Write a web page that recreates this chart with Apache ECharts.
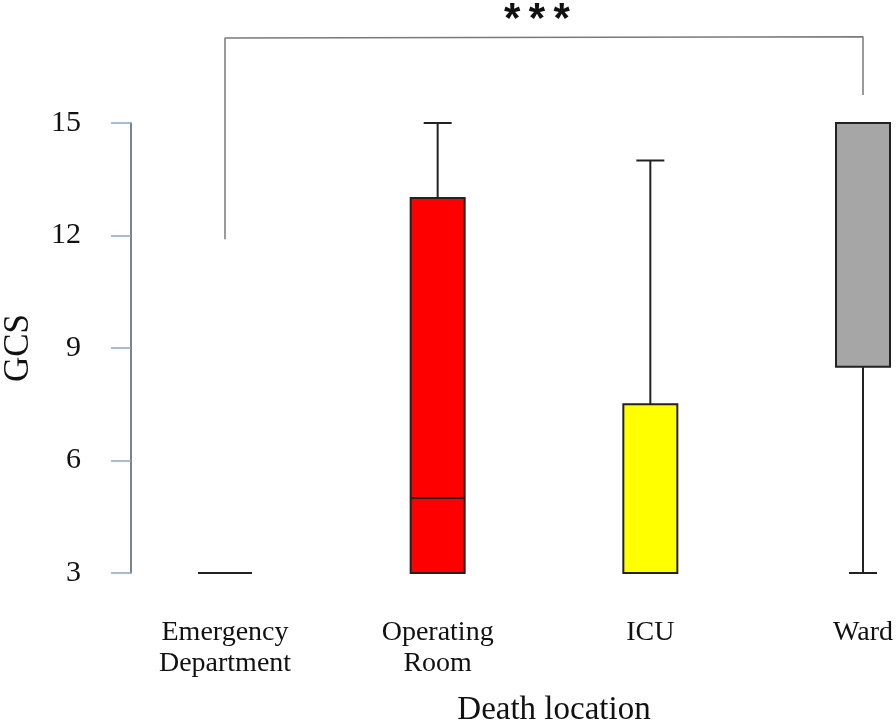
<!DOCTYPE html>
<html>
<head>
<meta charset="utf-8">
<script src="https://cdn.jsdelivr.net/npm/echarts@6/dist/echarts.min.js"></script>
</head>
<body style="margin:0;background:#fff;">
<div id="chart" style="width:896px;height:724px;"></div>
<script>
// categories and box stats
const locations = ['Emergency\nDepartment', 'Operating\nRoom', 'ICU', 'Ward'];
const gcsMin = [3, 3, 3, 3];
const gcsQ1 = [3, 3, 3, 8.5];
const gcsMedian = [3, 5, 3, 15];
const gcsQ3 = [3, 13, 7.5, 15];
const gcsMax = [3, 15, 14, 15];
const boxColors = ['#ffffff', '#ff0000', '#ffff00', '#a6a6a6'];
const yTicks = [3, 6, 9, 12, 15];
// significance bracket: ED vs Ward
const bracket = [[0, 11.9], [0, 17.27], [3, 17.3], [3, 15.75]];

const boxData = locations.map((c, i) => [i, gcsMin[i], gcsQ1[i], gcsMedian[i], gcsQ3[i], gcsMax[i]]);

const chart = echarts.init(document.getElementById('chart'));

function renderBox(params, api) {
  const i = api.value(0);
  const pMin = api.coord([i, api.value(1)]);
  const pQ1 = api.coord([i, api.value(2)]);
  const pMed = api.coord([i, api.value(3)]);
  const pQ3 = api.coord([i, api.value(4)]);
  const pMax = api.coord([i, api.value(5)]);
  const cx = pMed[0];
  const hw = 27, cap = 14;
  const line = { stroke: '#222', lineWidth: 2 };
  const kids = [];
  if (api.value(5) > api.value(4)) {
    kids.push({ type: 'line', shape: { x1: cx, y1: pQ3[1], x2: cx, y2: pMax[1] }, style: line });
    kids.push({ type: 'line', shape: { x1: cx - cap, y1: pMax[1], x2: cx + cap, y2: pMax[1] }, style: line });
  }
  if (api.value(1) < api.value(2)) {
    kids.push({ type: 'line', shape: { x1: cx, y1: pQ1[1], x2: cx, y2: pMin[1] }, style: line });
    kids.push({ type: 'line', shape: { x1: cx - cap, y1: pMin[1], x2: cx + cap, y2: pMin[1] }, style: line });
  }
  if (pQ1[1] - pQ3[1] > 0.5) {
    kids.push({ type: 'rect', shape: { x: cx - hw, y: pQ3[1], width: hw * 2, height: pQ1[1] - pQ3[1] },
      style: { fill: boxColors[i], stroke: '#222', lineWidth: 2 } });
  }
  kids.push({ type: 'line', shape: { x1: cx - hw, y1: pMed[1], x2: cx + hw, y2: pMed[1] }, style: line });
  return { type: 'group', children: kids };
}

chart.setOption({
  animation: false,
  backgroundColor: '#fff',
  textStyle: { fontFamily: 'Liberation Serif' },
  grid: { left: 225, right: 33, top: 123, bottom: 151, outerBoundsMode: 'none', containLabel: false },
  xAxis: {
    type: 'category',
    data: locations,
    boundaryGap: false,
    axisLine: { show: false },
    axisTick: { show: false },
    axisLabel: { color: '#111', fontSize: 28, lineHeight: 31, margin: 44, fontFamily: 'Liberation Serif' },
    name: 'Death location',
    nameLocation: 'middle',
    nameGap: 121,
    nameTextStyle: { color: '#111', fontSize: 33, fontFamily: 'Liberation Serif', padding: [0, 0, 0, 20] }
  },
  yAxis: {
    type: 'value',
    min: yTicks[0],
    max: yTicks[yTicks.length - 1],
    interval: 3,
    offset: 94,
    splitLine: { show: false },
    axisLine: { show: true, lineStyle: { color: '#4d5a6e', width: 1.5 } },
    axisTick: { show: true, length: 20, lineStyle: { color: '#8aa4cc', width: 1.5 } },
    axisLabel: { color: '#111', fontSize: 30, margin: 50, fontFamily: 'Liberation Serif' },
    name: 'GCS',
    nameLocation: 'middle',
    nameGap: 95,
    nameTextStyle: { color: '#111', fontSize: 35, fontFamily: 'Liberation Serif' }
  },
  series: [
    {
      type: 'custom',
      renderItem: renderBox,
      data: boxData,
      encode: { x: 0, y: [1, 2, 3, 4, 5] },
      clip: false
    },
    {
      type: 'line',
      data: bracket,
      symbol: 'none',
      clip: false,
      lineStyle: { color: '#7a7a7a', width: 1.5 },
      z: 1
    }
  ],
  graphic: [{
    type: 'text',
    x: 537,
    y: -1,
    style: { text: '*\u2009*\u2009*', font: 'bold 42px "Liberation Sans"', fill: '#111', textAlign: 'center' }
  }]
});
</script>
</body>
</html>
